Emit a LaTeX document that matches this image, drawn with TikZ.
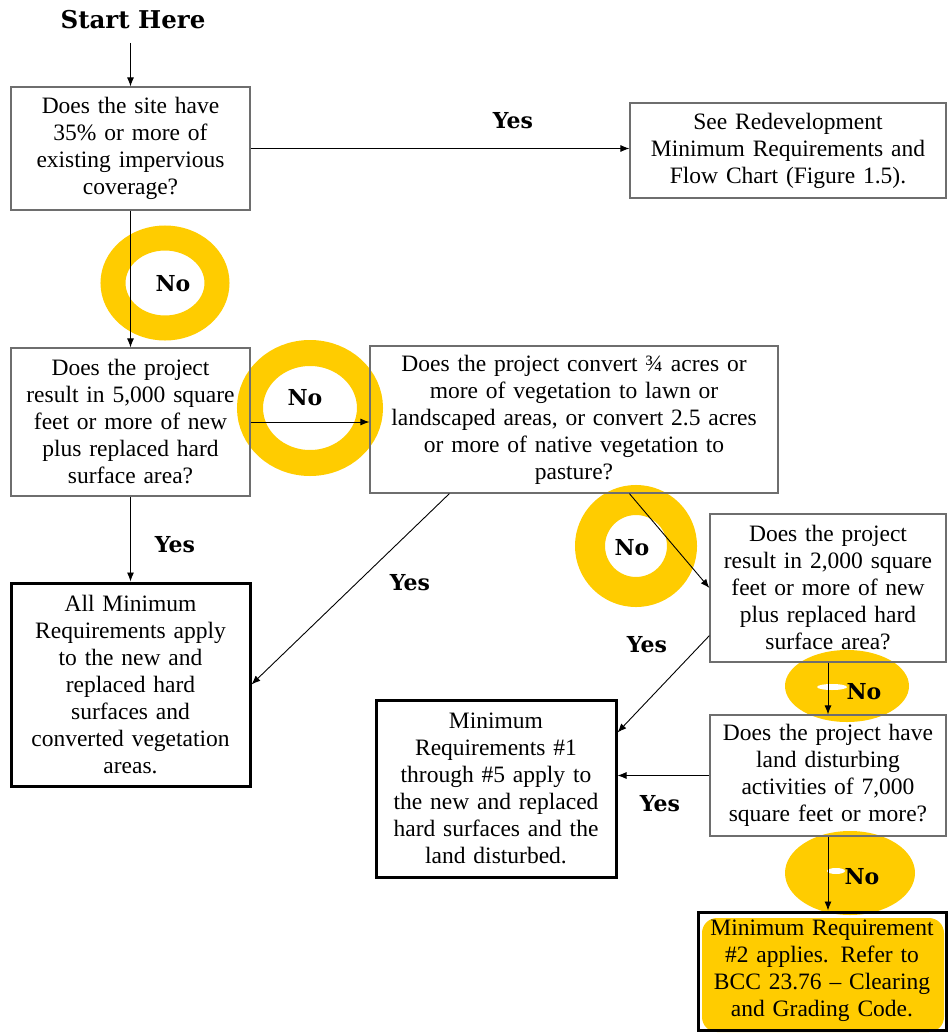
\documentclass[tikz,border=0pt]{standalone}
\usepackage{fontspec}
\setmainfont{Liberation Serif}
\newfontfamily\lblfont{DejaVu Serif}
\usetikzlibrary{arrows.meta}
\definecolor{marker}{RGB}{255,204,0}
\definecolor{boxgray}{RGB}{110,110,110}
\tikzset{
  qbox/.style={draw=boxgray, line width=1.2pt, inner sep=4pt, align=center,
    font=\fontsize{23.5}{27}\selectfont},
  endbox/.style={qbox, draw=black, line width=3pt},
  lbl/.style={font=\fontsize{22}{26}\selectfont\lblfont\bfseries},
  arr/.style={black, line width=0.9pt, -{Latex[length=9pt,width=7pt]}},
  ring/.style={draw=marker},
}
\begin{document}
\begin{tikzpicture}[x=1pt, y=-1pt]
			\useasboundingbox (0,0) rectangle (948,1036);
			% marker strokes
			\draw [ring, line width=25pt] (165,283) ellipse (52 and 45);
			\draw [ring, line width=26pt] (310,408) ellipse (60 and 55);
			\draw [ring, line width=30pt] (636,546) ellipse (46 and 46);
			\fill [marker] (847,686) ellipse (62 and 36);
			\fill [white] (832,687) ellipse (15 and 3);
			\fill [marker] (850,873) ellipse (65 and 42);
			\fill [white] (836,871) ellipse (9 and 3);
			\fill [marker, rounded corners=15pt] (702,918) rectangle (944,1032);
			% boxes
			\node [font=\fontsize{24.5}{28}\selectfont\lblfont\bfseries] (start) at (133,20) {Start Here};
			\node [qbox, text width=231pt, minimum height=123pt] (site) at (130.5,148.5) {Does the site have\\35\% or more of\\existing impervious\\coverage?};
			\node [qbox, text width=308pt, minimum height=95pt] (redev) at (788,150.5) {See Redevelopment\\Minimum Requirements and\\Flow Chart (Figure 1.5).};
			\node [qbox, text width=231pt, minimum height=148pt] (hard5k) at (130.5,422) {Does the project\\result in 5,000 square\\feet or more of new\\plus replaced hard\\surface area?};
			\node [qbox, text width=400pt, minimum height=147pt] (veg) at (574,419.5) {Does the project convert ¾ acres or\\more of vegetation to lawn or\\landscaped areas, or convert 2.5 acres\\or more of native vegetation to\\pasture?};
			\node [endbox, text width=231pt, minimum height=203pt] (allmr) at (130.5,684.5) {All Minimum\\Requirements apply\\to the new and\\replaced hard\\surfaces and\\converted vegetation\\areas.};
			\node [qbox, text width=228pt, minimum height=148pt] (hard2k) at (828,588) {Does the project\\result in 2,000 square\\feet or more of new\\plus replaced hard\\surface area?};
			\node [endbox, text width=232pt, minimum height=177pt] (mrfive) at (496,788.5) {Minimum\\Requirements \#1\\through \#5 apply to\\the new and replaced\\hard surfaces and the\\land disturbed.};
			\node [qbox, text width=228pt, minimum height=121pt] (land) at (828,775.5) {Does the project have\\land disturbing\\activities of 7,000\\square feet or more?};
			\node [endbox, text width=240pt, minimum height=118pt] (mrtwo) at (822,971) {Minimum Requirement\\\#2 applies. Refer to\\BCC 23.76 -- Clearing\\and Grading Code.};
			% connectors
			\draw [arr] ([yshift=-10pt]start.south -| site.north) -- (site.north);
			\draw [arr] (site.east) -- (site.east -| redev.west);
			\draw [arr] (site.south) -- (hard5k.north);
			\draw [arr] (hard5k.east) -- (hard5k.east -| veg.west);
			\draw [arr] (hard5k.south) -- (allmr.north);
			\draw [arr] ([xshift=80pt]veg.south west) -- (allmr.east);
			\draw [arr] ([xshift=260pt]veg.south west) -- (hard2k.west);
			\draw [arr] ([yshift=27pt]hard2k.south west) -- ([yshift=56pt]mrfive.east);
			\draw [arr] (hard2k.south) -- (land.north);
			\draw [arr] (land.west) -- (land.west -| mrfive.east);
			\draw [arr] (land.south) -- (land.south |- mrtwo.north);
			% labels
			\node [lbl] (yes1) at (513,121) {Yes};
			\node [lbl] (no1) at (173,284) {No};
			\node [lbl] (no2) at (305,398) {No};
			\node [lbl] (yes2) at (175,545) {Yes};
			\node [lbl] (yes3) at (410,583) {Yes};
			\node [lbl] (no3) at (632,548) {No};
			\node [lbl] (yes4) at (647,645) {Yes};
			\node [lbl] (no4) at (864,692) {No};
			\node [lbl] (yes5) at (660,804) {Yes};
			\node [lbl] (no5) at (862,877) {No};
		\end{tikzpicture}
\end{document}
